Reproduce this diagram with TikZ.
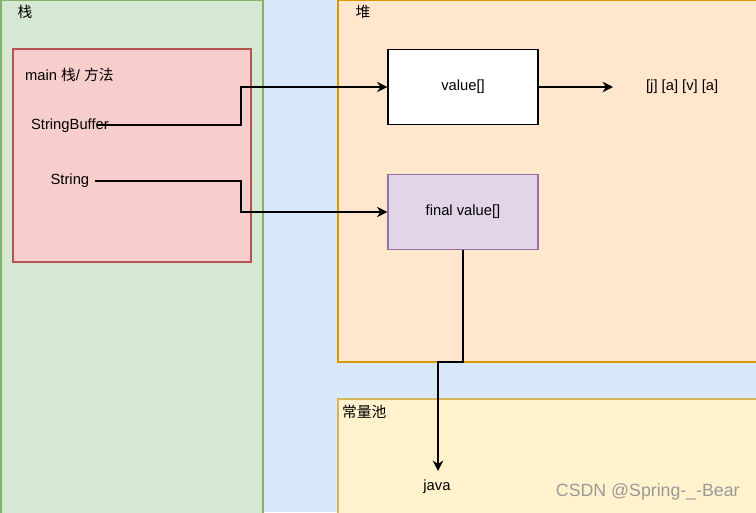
\documentclass[tikz,border=0pt]{standalone}
\usepackage{fontspec}
\setmainfont{Liberation Sans}
\newfontfamily\cjk{Noto Sans CJK SC}
\usetikzlibrary{arrows.meta,shapes,positioning}

\begin{document}
\begin{tikzpicture}[x=0.02cm,y=-0.02cm,>={Stealth[length=6pt,width=6pt,inset=2pt]}]
    \definecolor{mybluebg}{HTML}{DAE8FC}
    \definecolor{mygreenf}{HTML}{D5E8D4}
    \definecolor{mygreend}{HTML}{82B366}
    \definecolor{myredf}{HTML}{F8CECC}
    \definecolor{myredd}{HTML}{B85450}
    \definecolor{myorangef}{HTML}{FFE6CC}
    \definecolor{myoranged}{HTML}{D79B00}
    \definecolor{myyellowf}{HTML}{FFF2CC}
    \definecolor{myyellowd}{HTML}{D6B656}
    \definecolor{mypurplef}{HTML}{E1D5E7}
    \definecolor{mypurpled}{HTML}{9673A6}

    \fontsize{8.4pt}{10pt}\selectfont  % 字号
    \tikzstyle{area}=[line width=0.6pt]  % 区域
    \tikzstyle{format}=[rectangle,draw,line width=0.7pt,minimum width=3cm,minimum height=1.5cm]  % 对象块
    \tikzstyle{txt}=[inner sep=1pt]  % 普通文字
    \tikzstyle{link}=[->,line width=0.7pt]  % 引用线

    % 底色与区域
    \fill[mybluebg] (0,0) rectangle (756,512);
    \useasboundingbox (0,0) rectangle (756,512);
    \draw[area,draw=mygreend,fill=mygreenf] (1,0) rectangle (263,515);
    \draw[area,draw=myoranged,fill=myorangef] (338,0) rectangle (760,362);
    \draw[area,draw=myyellowd,fill=myyellowf] (338,399) rectangle (760,515);
    \draw[area,draw=myredd,fill=myredf] (13,49) rectangle (251,262);

    % 区域标题
    \node[txt](stack) at (25,12){\cjk 栈};
    \node[txt](heap) at (363,12){\cjk 堆};
    \node[txt,anchor=west](pool) at (340,412){\cjk 常量池};

    % 栈中内容
    \node[txt,anchor=west](main) at (23,75){main {\cjk 栈}/ {\cjk 方法}};
    \node[txt,anchor=west](sb) at (29,126){StringBuffer};
    \node[txt,anchor=west,inner sep=3pt](str) at (45,181){String};
    \coordinate (sbout) at (97,125);

    % 堆中内容
    \node[format,fill=white](value) at (463,87){value[]};
    \node[format,draw=mypurpled,fill=mypurplef](fvalue) at (463,212){final value[]};
    \coordinate (arrend) at (613,87);
    \node[txt,anchor=west](chars) at (644,87){[j] [a] [v] [a]};

    % 常量池
    \node[txt,inner sep=5pt](java) at (437,487){java};
    \node[text=black!40,anchor=east,inner sep=0pt,font=\fontsize{10.1pt}{11pt}\selectfont](mark) at (740,492){CSDN @Spring-\_-Bear};

    % 开始画线
    \draw[link](sbout) -- (241,125) |- (value.west);
    \draw[link](str.east) -- (str.east -| 241,0) |- (fvalue.west);
    \draw[link](value.east) -- (arrend);
    \draw[link](fvalue.south) |- (438,362) -- (java.north -| 438,0);
\end{tikzpicture}
\end{document}
